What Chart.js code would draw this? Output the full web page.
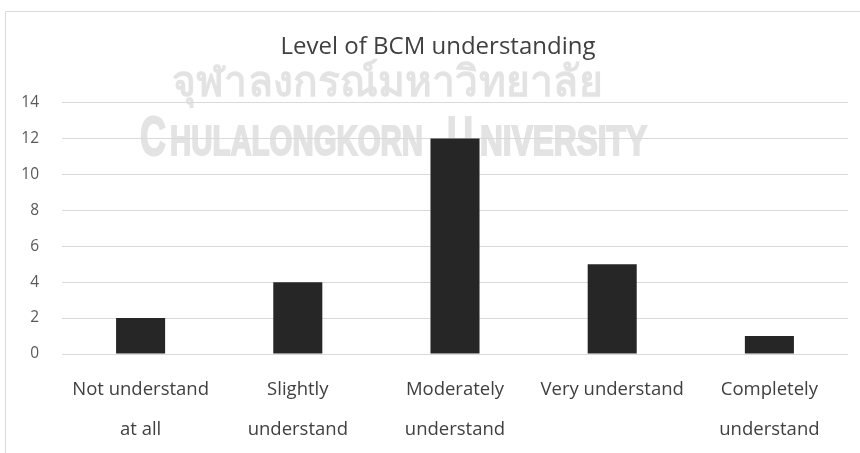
<!DOCTYPE html>
<html>
<head>
<meta charset="utf-8">
<script src="https://cdn.jsdelivr.net/npm/chart.js@4"></script>
<style>
html,body{margin:0;padding:0;background:#fff;}
#wrap{position:absolute;left:0;top:0;width:860px;height:453px;}
</style>
</head>
<body>
<div id="wrap"><canvas id="c" width="860" height="453"></canvas></div>
<script>
const categories = [["Not understand","at all"],["Slightly","understand"],["Moderately","understand"],["Very understand"],["Completely","understand"]];
const values = [2, 4, 12, 5, 1];
const yTicks = [0, 2, 4, 6, 8, 10, 12, 14];
const titleText = "Level of BCM understanding";
const watermarkThai = "จุฬาลงกรณ์มหาวิทยาลัย";
const watermarkEn = [["C", true], ["HULALONGKORN", false], ["U", true], ["NIVERSITY", false]];

const FONT = "'Open Sans', 'Noto Sans', sans-serif";

function fitText(ctx, text, x0, x1, baseline, stroke) {
  const w = ctx.measureText(text).width;
  ctx.save();
  ctx.translate(x0, baseline);
  ctx.scale((x1 - x0) / w, 1);
  ctx.fillText(text, 0, 0);
  if (stroke) ctx.strokeText(text, 0, 0);
  ctx.restore();
}

const backdrop = {
  id: 'backdrop',
  beforeDraw(chart) {
    const ctx = chart.ctx;
    ctx.save();
    ctx.fillStyle = '#e3e3e3';
    ctx.strokeStyle = '#e3e3e3';
    ctx.lineWidth = 2;
    ctx.textAlign = 'left';
    ctx.textBaseline = 'alphabetic';
    ctx.font = "bold 42px 'Noto Sans', 'DejaVu Sans', sans-serif";
    fitText(ctx, watermarkThai, 172, 603, 96, false);
    const spans = [[140, 166], [170, 423], [447, 473], [480, 647]];
    watermarkEn.forEach(([t, big], i) => {
      ctx.font = (big ? "bold 56px" : "bold 43px") + " 'Liberation Sans', Arial, sans-serif";
      fitText(ctx, t, spans[i][0], spans[i][1], 155, true);
    });
    // frame
    ctx.strokeStyle = '#d9d9d9';
    ctx.lineWidth = 1;
    ctx.beginPath();
    ctx.moveTo(860, 11.5);
    ctx.lineTo(5.5, 11.5);
    ctx.lineTo(5.5, 453);
    ctx.stroke();
    ctx.restore();
  },
  afterDraw(chart) {
    const ctx = chart.ctx;
    ctx.save();
    ctx.fillStyle = '#404040';
    ctx.font = "24px " + FONT;
    ctx.textAlign = 'center';
    ctx.textBaseline = 'middle';
    ctx.fillText(titleText, 438, 47);
    ctx.restore();
  }
};

new Chart(document.getElementById('c'), {
  type: 'bar',
  data: {
    labels: categories,
    datasets: [{
      data: values,
      backgroundColor: '#262626',
      borderWidth: 0,
      barPercentage: 1,
      categoryPercentage: 0.312
    }]
  },
  plugins: [backdrop],
  options: {
    responsive: false,
    animation: false,
    devicePixelRatio: 1,
    layout: { padding: { top: 102.5, right: 12, bottom: 3, left: 0 } },
    plugins: {
      legend: { display: false },
      tooltip: { enabled: false },
      title: { display: false }
    },
    scales: {
      x: {
        afterFit(scale) { scale.height = 96; },
        grid: { display: false, drawTicks: false },
        border: { display: false },
        ticks: {
          color: '#404040',
          font: { family: FONT, size: 18.5, lineHeight: 40 / 18.5 },
          padding: 16,
          maxRotation: 0,
          autoSkip: false
        }
      },
      y: {
        min: 0,
        max: 14,
        afterBuildTicks(scale) { scale.ticks = yTicks.map(v => ({ value: v })); },
        afterFit(scale) { scale.width = 62; },
        grid: { color: '#d9d9d9', drawTicks: false, lineWidth: 1 },
        border: { display: false },
        ticks: {
          color: '#595959',
          font: { family: FONT, size: 15.5 },
          padding: 23
        }
      }
    }
  }
});
</script>
</body>
</html>
